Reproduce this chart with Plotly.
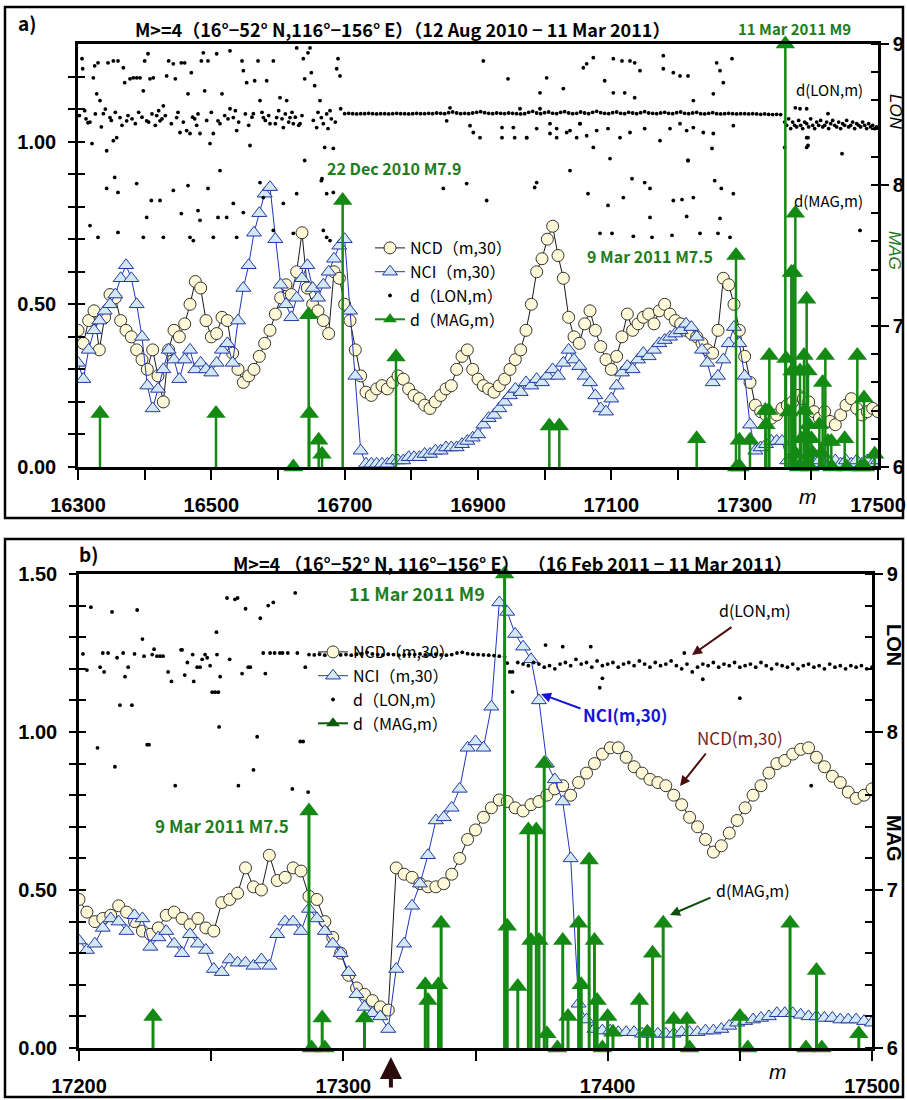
import plotly.graph_objects as go

# ======================= DATA =======================
# Panel a : NCD(m,30) and NCI(m,30), m = 16300, 16308, ... 17500
NCD_A = [
    0.42, 0.38, 0.45, 0.48, 0.36, 0.46, 0.53, 0.52, 0.45, 0.42,
    0.40, 0.36, 0.33, 0.30, 0.36, 0.28, 0.20, 0.36, 0.42, 0.40,
    0.44, 0.50, 0.57, 0.55, 0.45, 0.40, 0.41, 0.46, 0.45, 0.35,
    0.30, 0.26, 0.28, 0.30, 0.34, 0.38, 0.42, 0.47, 0.52, 0.56,
    0.53, 0.60, 0.72, 0.55, 0.50, 0.48, 0.45, 0.41, 0.60, 0.58,
    0.50, 0.45, 0.36, 0.28, 0.23, 0.22, 0.24, 0.25, 0.24, 0.26,
    0.28, 0.27, 0.24, 0.22, 0.21, 0.19, 0.18, 0.20, 0.22, 0.24,
    0.25, 0.30, 0.34, 0.36, 0.30, 0.27, 0.25, 0.24, 0.23, 0.25,
    0.27, 0.30, 0.33, 0.36, 0.42, 0.50, 0.60, 0.64, 0.70, 0.74,
    0.65, 0.58, 0.46, 0.40, 0.38, 0.44, 0.48, 0.42, 0.37, 0.33,
    0.30, 0.34, 0.40, 0.47, 0.42, 0.44, 0.46, 0.47, 0.44, 0.48,
    0.50, 0.47, 0.45, 0.44, 0.42, 0.41, 0.40, 0.38, 0.36, 0.35,
    0.42, 0.58, 0.56, 0.50, 0.42, 0.34, 0.26, 0.19, 0.17, 0.16,
    0.15, 0.16, 0.18, 0.19, 0.20, 0.22, 0.21, 0.20, 0.17, 0.15,
    0.17, 0.14, 0.13, 0.16, 0.19, 0.21, 0.18, 0.16, 0.17, 0.18,
    0.17]
NCI_A = [
    0.32, 0.27, 0.36, 0.42, 0.45, 0.48, 0.50, 0.53, 0.58, 0.62,
    0.58, 0.50, 0.40, 0.25, 0.18, 0.24, 0.30, 0.36, 0.33, 0.27,
    0.33, 0.36, 0.30, 0.32, 0.30, 0.29, 0.32, 0.36, 0.38, 0.32,
    0.45, 0.55, 0.62, 0.72, 0.78, 0.84, 0.86, 0.70, 0.56, 0.50,
    0.46, 0.52, 0.58, 0.62, 0.55, 0.52, 0.56, 0.60, 0.64, 0.68,
    0.70, 0.48, 0.28, 0.05, 0.01, 0.01, 0.01, 0.01, 0.01, 0.02,
    0.02, 0.02, 0.03, 0.03, 0.03, 0.04, 0.04, 0.05, 0.05, 0.06,
    0.06, 0.06, 0.07, 0.08, 0.09, 0.10, 0.13, 0.15, 0.16, 0.18,
    0.20, 0.22, 0.24, 0.23, 0.26, 0.25, 0.27, 0.26, 0.28, 0.30,
    0.28, 0.32, 0.36, 0.33, 0.31, 0.28, 0.26, 0.22, 0.18, 0.17,
    0.21, 0.25, 0.29, 0.31, 0.30, 0.33, 0.35, 0.34, 0.36, 0.38,
    0.39, 0.40, 0.41, 0.42, 0.44, 0.43, 0.40, 0.36, 0.32, 0.26,
    0.28, 0.33, 0.38, 0.43, 0.38, 0.28, 0.13, 0.05, 0.06, 0.07,
    0.08, 0.08, 0.08, 0.02, 0.01, 0.02, 0.01, 0.02, 0.01, 0.02,
    0.01, 0.01, 0.02, 0.01, 0.02, 0.01, 0.02, 0.01, 0.02, 0.01,
    0.02]

# Panel b : m = 17200, 17203, ... 17500
NCD_B = [
    0.47, 0.43, 0.40, 0.41, 0.42, 0.45, 0.43, 0.40, 0.37, 0.36,
    0.38, 0.42, 0.43, 0.41, 0.39, 0.41, 0.38, 0.37, 0.46, 0.47,
    0.49, 0.57, 0.51, 0.50, 0.61, 0.53, 0.54, 0.57, 0.56, 0.48,
    0.47, 0.40, 0.35, 0.30, 0.23, 0.19, 0.17, 0.15, 0.13, 0.12,
    0.57, 0.55, 0.54, 0.52, 0.51, 0.51, 0.52, 0.55, 0.60, 0.66,
    0.69, 0.73, 0.76, 0.785, 0.78, 0.76, 0.75, 0.77, 0.78, 0.80,
    0.82, 0.83, 0.80, 0.84, 0.87, 0.90, 0.93, 0.95, 0.95, 0.92,
    0.89, 0.87, 0.85, 0.84, 0.83, 0.80, 0.77, 0.73, 0.70, 0.66,
    0.62, 0.64, 0.68, 0.72, 0.76, 0.80, 0.83, 0.87, 0.90, 0.91,
    0.93, 0.945, 0.95, 0.92, 0.89, 0.86, 0.84, 0.81, 0.79, 0.80,
    0.82]
NCI_B = [
    0.34, 0.31, 0.33, 0.38, 0.41, 0.40, 0.37, 0.42, 0.41, 0.32,
    0.35, 0.37, 0.33, 0.30, 0.36, 0.33, 0.31, 0.25, 0.24, 0.28,
    0.27, 0.27, 0.26, 0.28, 0.26, 0.36, 0.40, 0.40, 0.37, 0.44,
    0.41, 0.37, 0.33, 0.30, 0.24, 0.17, 0.13, 0.11, 0.10, 0.06,
    0.25, 0.33, 0.45, 0.52, 0.61, 0.72, 0.73, 0.76, 0.82, 0.95,
    0.97, 0.95, 1.08, 1.41, 1.38, 1.31, 1.27, 1.23, 1.10, 0.90,
    0.85, 0.78, 0.60, 0.14, 0.09, 0.06, 0.055, 0.055, 0.05, 0.05,
    0.05, 0.045, 0.045, 0.045, 0.045, 0.045, 0.05, 0.05, 0.05, 0.055,
    0.055, 0.06, 0.07, 0.08, 0.085, 0.09, 0.095, 0.10, 0.11, 0.11,
    0.11, 0.105, 0.10, 0.10, 0.095, 0.095, 0.09, 0.09, 0.09, 0.085,
    0.08]

# d(MAG,m): event index m and magnitude
MAG_M = [16333, 16507, 16623, 16646, 16647, 16661, 16666, 16697, 16777, 17007,
         17022, 17228, 17287, 17288, 17292, 17293, 17308, 17331, 17332, 17336,
         17337, 17361, 17362, 17366, 17370, 17371, 17373, 17374, 17376, 17377,
         17381, 17383, 17385, 17389, 17390, 17393, 17395, 17396, 17398, 17400,
         17402, 17412, 17415, 17417, 17421, 17425, 17430, 17431, 17450, 17453,
         17469, 17475, 17479, 17481, 17495]
MAG_V = [6.38, 6.38, 6.0, 7.08, 6.38, 6.19, 6.09, 7.89, 6.78, 6.29,
         6.29, 6.2, 7.5, 6.0, 6.19, 6.0, 6.19, 6.4, 6.3, 6.4,
         6.79, 9.0, 6.77, 6.39, 7.38, 6.68, 7.38, 6.68, 7.8, 6.09,
         6.0, 6.68, 6.2, 6.79, 6.4, 7.19, 6.68, 6.3, 6.0, 6.2,
         6.1, 6.3, 6.1, 6.6, 6.79, 6.18, 6.18, 6.0, 6.2, 6.0,
         6.79, 6.0, 6.49, 6.0, 6.09]

# d(LON,m), panel a (plotted on the left scale)
LON_A_M = [16306, 16307, 16312, 16315, 16321, 16323, 16325, 16328, 16330, 16333,
           16338, 16343, 16345, 16348, 16353, 16353, 16358, 16360, 16363, 16368,
           16370, 16373, 16378, 16383, 16388, 16393, 16398, 16400, 16403, 16405,
           16408, 16413, 16418, 16423, 16428, 16433, 16436, 16443, 16446, 16448,
           16453, 16455, 16460, 16463, 16465, 16468, 16470, 16475, 16483, 16485,
           16488, 16490, 16495, 16498, 16503, 16508, 16510, 16516, 16528, 16528,
           16533, 16538, 16546, 16548, 16553, 16558, 16563, 16565, 16570, 16573,
           16578, 16583, 16588, 16593, 16598, 16603, 16608, 16613, 16618, 16623,
           16628, 16633, 16638, 16640, 16645, 16648, 16650, 16655, 16658, 16663,
           16665, 16670, 16675, 16678, 16683, 16688, 16690, 16693, 16694]
LON_A_V = [1.255, 1.224, 1.07, 1.058, 0.994, 1.196, 1.233, 1.147, 1.242, 1.126,
           1.086, 0.972, 1.242, 1.074, 1.248, 1.003, 1.012, 1.248, 1.074, 1.227,
           1.181, 1.064, 1.193, 1.196, 1.196, 1.196, 1.156, 1.248, 1.064, 1.27,
           1.193, 1.196, 1.08, 1.064, 1.11, 1.202, 1.248, 1.239, 1.193, 1.074,
           1.028, 1.242, 1.242, 1.034, 1.147, 1.025, 1.212, 1.07, 1.025, 1.248,
           1.273, 1.156, 1.248, 0.994, 1.025, 1.27, 1.064, 1.147, 1.279, 1.101,
           1.074, 1.034, 1.248, 1.218, 1.181, 0.988, 1.086, 1.187, 1.248, 1.126,
           1.074, 1.187, 1.055, 1.248, 1.074, 1.135, 1.043, 1.126, 1.074, 1.055,
           1.288, 1.055, 1.255, 1.193, 1.273, 1.288, 1.212, 1.172, 1.043, 1.126,
           1.074, 0.982, 1.04, 1.095, 0.979, 1.224, 1.255, 1.202, 1.101]
LON_A_BAND_M = [16302, 16310, 16318, 16326, 16335, 16341, 16350, 16356, 16366, 16375,
                16381, 16386, 16391, 16396, 16406, 16411, 16416, 16421, 16426, 16431,
                16440, 16450, 16458, 16472, 16478, 16480, 16493, 16500, 16513, 16520,
                16525, 16536, 16541, 16551, 16556, 16561, 16576, 16581, 16586, 16596,
                16601, 16606, 16611, 16616, 16621, 16626, 16631, 16636, 16653, 16660,
                16668, 16673, 16680, 16686]
LON_A_BAND_V = [1.08, 1.095, 1.06, 1.085, 1.045, 1.10, 1.065, 1.09, 1.05, 1.08,
                1.07, 1.055, 1.09, 1.075, 1.06, 1.085, 1.05, 1.095, 1.07, 1.08,
                1.055, 1.09, 1.06, 1.075, 1.05, 1.085, 1.065, 1.09, 1.055, 1.08,
                1.07, 1.095, 1.06, 1.085, 1.05, 1.075, 1.09, 1.065, 1.08, 1.055,
                1.095, 1.07, 1.085, 1.06, 1.09, 1.075, 1.05, 1.08, 1.065, 1.09,
                1.055, 1.085, 1.07, 1.06]
LON_A_LOW_M = [16318, 16330, 16343, 16355, 16360, 16360, 16388, 16398, 16403, 16410,
               16423, 16428, 16443, 16455, 16465, 16468, 16473, 16480, 16483, 16495,
               16503, 16510, 16513, 16523, 16533, 16538, 16548, 16573, 16578, 16593,
               16608, 16623, 16628, 16640, 16665, 16666, 16668, 16673, 16673, 16678,
               16683, 16848, 16883, 16913, 16985, 16988, 17038, 17065, 17083, 17095,
               17098, 17101, 17118, 17131, 17133, 17150, 17158, 17158, 17161, 17191,
               17193, 17206, 17213, 17215, 17223, 17233, 17255, 17260, 17263, 17265,
               17278, 17283, 17446, 17473]
LON_A_LOW_V = [0.742, 0.706, 0.856, 0.89, 0.721, 0.844, 0.871, 0.706, 0.767, 0.819,
               0.819, 0.706, 0.85, 0.779, 0.865, 0.706, 0.696, 0.788, 0.758, 0.856,
               0.706, 0.767, 0.911, 0.767, 0.81, 0.706, 0.782, 0.874, 0.828, 0.727,
               0.81, 0.718, 0.84, 0.942, 0.88, 0.886, 0.727, 0.84, 0.706, 0.696,
               0.844, 0.856, 0.871, 0.819, 0.859, 0.874, 0.911, 0.84, 0.718, 0.804,
               0.948, 0.718, 0.828, 0.886, 0.709, 0.874, 0.856, 0.767, 0.706, 0.712,
               0.819, 0.822, 0.77, 0.942, 0.828, 0.718, 0.88, 0.718, 0.764, 0.856,
               0.706, 0.84, 0.963, 0.727]
LON_A_NEAR_M = [16853, 16858, 16888, 16893, 16903, 16908, 16936, 16936, 16945, 16953,
                16955, 16963, 16973, 16973, 16988, 16993, 16993, 17003, 17008, 17008,
                17018, 17018, 17028, 17033, 17038, 17048, 17053, 17053, 17058, 17063,
                17063, 17073, 17073, 17078, 17090, 17095, 17103, 17103, 17113, 17116,
                17120, 17128, 17128, 17135, 17135, 17143, 17150, 17173, 17178, 17178,
                17188, 17193, 17203, 17203, 17213, 17215, 17215, 17223, 17223, 17238,
                17251, 17253, 17253, 17258, 17263, 17268, 17281, 17283, 17360, 17376,
                17383, 17393, 17393, 17393, 17395, 17395, 17425]
LON_A_NEAR_V = [1.064, 1.104, 1.049, 1.028, 1.012, 1.248, 1.043, 1.012, 1.193, 1.043,
                1.012, 1.101, 1.012, 1.012, 1.04, 1.101, 1.150, 1.196, 1.055, 1.025,
                1.012, 1.04, 1.163, 1.028, 1.034, 1.012, 1.055, 1.055, 1.227, 1.239,
                1.018, 1.258, 0.982, 1.034, 1.187, 1.04, 1.255, 1.150, 1.012, 1.248,
                1.150, 1.248, 1.028, 1.242, 1.135, 1.218, 1.04, 1.003, 1.264, 1.224,
                1.04, 1.212, 1.202, 1.055, 1.034, 1.202, 0.942, 1.126, 1.043, 1.028,
                0.979, 1.147, 1.025, 1.242, 1.218, 1.181, 1.255, 1.049, 0.982, 1.104,
                1.101, 1.101, 0.982, 1.012, 1.012, 0.988, 1.086]
# dense LON line, m = 16700, 16706, ... 17354
LON_A_LINE = [
    1.086, 1.087, 1.086, 1.085, 1.086, 1.086, 1.087, 1.086, 1.085, 1.086,
    1.086, 1.085, 1.086, 1.087, 1.086, 1.086, 1.085, 1.086, 1.087, 1.086,
    1.086, 1.087, 1.086, 1.088, 1.087, 1.086, 1.089, 1.091, 1.088, 1.086,
    1.087, 1.086, 1.088, 1.090, 1.092, 1.089, 1.087, 1.086, 1.088, 1.087,
    1.086, 1.088, 1.087, 1.086, 1.085, 1.086, 1.090, 1.093, 1.088, 1.086,
    1.089, 1.091, 1.087, 1.086, 1.090, 1.092, 1.088, 1.086, 1.087, 1.091,
    1.088, 1.086, 1.090, 1.093, 1.089, 1.087, 1.086, 1.089, 1.091, 1.087,
    1.086, 1.090, 1.088, 1.086, 1.089, 1.092, 1.088, 1.087, 1.086, 1.088,
    1.090, 1.087, 1.086, 1.089, 1.091, 1.087, 1.086, 1.088, 1.090, 1.086,
    1.085, 1.087, 1.089, 1.086, 1.085, 1.086, 1.087, 1.086, 1.085, 1.086,
    1.086, 1.085, 1.086, 1.085, 1.084, 1.085, 1.084, 1.083, 1.084, 1.083]
# LON band after the M9 event, m = 17360, 17363, ... 17498
LON_A_TAIL = [
    1.06, 1.05, 1.07, 1.04, 1.06, 1.05, 1.045, 1.065, 1.05, 1.04,
    1.06, 1.055, 1.045, 1.07, 1.05, 1.04, 1.06, 1.05, 1.065, 1.045,
    1.05, 1.06, 1.04, 1.055, 1.065, 1.05, 1.045, 1.06, 1.04, 1.055,
    1.05, 1.065, 1.045, 1.05, 1.06, 1.04, 1.055, 1.05, 1.045, 1.06,
    1.05, 1.04, 1.055, 1.045, 1.05, 1.04, 1.045]

# d(LON,m), panel b
LON_B_M = [17201.5, 17203, 17204.5, 17207, 17208, 17209, 17209.5, 17211, 17212.5, 17213.6,
           17214.4, 17215.5, 17216.7, 17217.4, 17218.6, 17220, 17221, 17222, 17224, 17224.6,
           17225.8, 17226.5, 17227.7, 17228.4, 17229.5, 17230.7, 17231.8, 17233.7, 17235, 17236.4,
           17238.6, 17239, 17240, 17241, 17243, 17243.4, 17244.7, 17245.8, 17246.6, 17247.7,
           17248.5, 17249.6, 17250.4, 17251.5, 17252.7, 17252, 17253, 17252.2, 17253.4, 17256,
           17257, 17259, 17260, 17260.3, 17261.7, 17263, 17264, 17264.8, 17266, 17267.4,
           17268.6, 17269.7, 17270.5, 17271.6, 17272.3, 17273.5, 17274, 17276, 17277, 17279,
           17280.7, 17281.8, 17282.6, 17283.7, 17284.8, 17285.6, 17286.7,
           17363, 17364, 17376.5, 17383, 17393.6, 17397, 17398, 17429, 17436, 17450, 17477]
LON_B_V = [1.247, 1.196, 1.395, 0.95, 1.205, 1.25, 1.19, 1.25, 1.38, 0.89,
           1.235, 1.085, 1.25, 1.175, 1.205, 1.085, 1.247, 1.386, 1.294, 1.24,
           0.96, 0.96, 1.245, 1.262, 1.24, 1.24, 1.24, 1.19, 1.16, 0.83,
           1.26, 1.26, 1.18, 1.22, 1.245, 1.16, 1.205, 1.205, 1.23, 1.245,
           1.235, 1.21, 1.126, 1.126, 1.126, 1.316, 1.016, 1.245, 1.175, 1.424,
           1.23, 1.42, 1.424, 0.83, 1.185, 1.39, 1.205, 1.205, 0.88, 0.985,
           1.36, 1.25, 1.185, 1.40, 1.25, 1.41, 1.25, 1.25, 1.25, 1.25,
           0.82, 1.44, 1.25, 0.97, 0.97, 1.205, 0.81,
           1.19, 1.127, 1.275, 1.27, 1.27, 1.14, 1.17, 1.25, 1.167, 1.107, 0.83]
# dense LON line, m = 17287, 17289, ... 17361
LON_B_LINE = [
    1.245, 1.244, 1.246, 1.243, 1.245, 1.247, 1.244, 1.245, 1.243, 1.246,
    1.248, 1.252, 1.247, 1.245, 1.244, 1.246, 1.245, 1.243, 1.244, 1.246,
    1.245, 1.247, 1.244, 1.245, 1.246, 1.244, 1.243, 1.245, 1.250, 1.252,
    1.248, 1.246, 1.245, 1.244, 1.243, 1.242, 1.240, 1.238]
# m = 17362, 17364, ... 17500
LON_B_TAIL = [
    1.218, 1.19, 1.22, 1.215, 1.21, 1.22, 1.215, 1.205, 1.21, 1.20,
    1.215, 1.22, 1.21, 1.23, 1.215, 1.22, 1.205, 1.225, 1.21, 1.215,
    1.22, 1.205, 1.215, 1.22, 1.21, 1.225, 1.215, 1.205, 1.22, 1.21,
    1.215, 1.225, 1.21, 1.20, 1.215, 1.19, 1.205, 1.215, 1.21, 1.22,
    1.205, 1.215, 1.21, 1.22, 1.205, 1.21, 1.215, 1.205, 1.22, 1.21,
    1.20, 1.215, 1.21, 1.205, 1.215, 1.20, 1.21, 1.215, 1.205, 1.21,
    1.20, 1.215, 1.205, 1.21, 1.20, 1.21, 1.205, 1.21, 1.20, 1.205]

# index positions (event count m)
M_A = list(range(16300, 17501, 8))
M_B = list(range(17200, 17501, 3))
LON_A_LINE_M = list(range(16700, 17355, 6))
LON_A_TAIL_M = list(range(17360, 17501, 3))
LON_B_LINE_M = list(range(17287, 17362, 2))
LON_B_TAIL_M = list(range(17362, 17501, 2))

# ======================= STYLE =======================
W, H = 907, 1100
def px(x): return x / W
def py(y): return 1 - y / H

CJK = "Noto Sans CJK JP"
TICKFONT = dict(family="Liberation Sans, Arial", size=20, color="black", weight="bold")
GREEN = "#148A14"
GREEN_TXT = "#1E7D1E"
NCD_FILL, NCD_EDGE = "#FFF9D8", "#333333"
NCI_FILL, NCI_EDGE, NCI_LINE = "#D2E8F7", "#24399F", "#2233C0"

fig = go.Figure()

def add_panel(xa, yl, yr, legend, mN, ncd, nci, mci, lon_sets, mag_m, mag_v,
              mag_size, stem_w, mag_leg_color):
    fig.add_trace(go.Scatter(
        x=mN, y=ncd, xaxis=xa, yaxis=yl, mode="lines+markers", name="NCD（m,30）",
        legend=legend, line=dict(color="#1A1A1A", width=1),
        marker=dict(symbol="circle", size=12, color=NCD_FILL,
                    line=dict(color=NCD_EDGE, width=1))))
    fig.add_trace(go.Scatter(
        x=mci, y=nci, xaxis=xa, yaxis=yl, mode="lines+markers", name="NCI（m,30）",
        legend=legend, line=dict(color=NCI_LINE, width=1),
        marker=dict(symbol="triangle-up", size=13, color=NCI_FILL,
                    line=dict(color=NCI_EDGE, width=1))))
    first = True
    for (lm, lv) in lon_sets:
        fig.add_trace(go.Scatter(
            x=lm, y=lv, xaxis=xa, yaxis=yl, mode="markers", name="d（LON,m）",
            legend=legend, showlegend=first,
            marker=dict(size=3.8, color="black")))
        first = False
    fig.add_trace(go.Scatter(
        x=mag_m, y=mag_v, xaxis=xa, yaxis=yr, mode="markers", showlegend=False,
        cliponaxis=False,
        marker=dict(symbol="triangle-up", size=mag_size, color=GREEN),
        error_y=dict(type="data", symmetric=False, array=[0] * len(mag_v),
                     arrayminus=[v - 5.94 for v in mag_v], color=GREEN,
                     thickness=stem_w, width=0)))
    fig.add_trace(go.Scatter(
        x=[None], y=[None], xaxis=xa, yaxis=yr, mode="lines+markers",
        name="d（MAG,m）", legend=legend,
        line=dict(color=mag_leg_color, width=2),
        marker=dict(symbol="triangle-up", size=12, color=mag_leg_color)))

add_panel("x", "y", "y2", "legend", M_A, NCD_A, NCI_A, M_A,
          [(LON_A_M, LON_A_V), (LON_A_BAND_M, LON_A_BAND_V),
           (LON_A_LOW_M, LON_A_LOW_V), (LON_A_NEAR_M, LON_A_NEAR_V),
           (LON_A_LINE_M, LON_A_LINE), (LON_A_TAIL_M, LON_A_TAIL)],
          MAG_M, MAG_V, 17, 2.5, GREEN)

MAG_B_M = [m for m in MAG_M if m >= 17200]
MAG_B_V = [v for m, v in zip(MAG_M, MAG_V) if m >= 17200]
add_panel("x2", "y4", "y5", "legend2", M_B, NCD_B, NCI_B, M_B,
          [(LON_B_M, LON_B_V), (LON_B_LINE_M, LON_B_LINE), (LON_B_TAIL_M, LON_B_TAIL)],
          MAG_B_M, MAG_B_V, 17, 3, "#0B5A0B")

# empty traces carrying the inside half of the crossing ticks
fig.add_trace(go.Scatter(x=[], y=[], xaxis="x", yaxis="y3", showlegend=False))
fig.add_trace(go.Scatter(x=[], y=[], xaxis="x2", yaxis="y6", showlegend=False))

def left_ticks(top):
    vals = [i / 10 for i in range(int(round(top * 10)) + 1)]
    text = [("%.2f" % v) if abs(v * 2 - round(v * 2)) < 1e-9 else "" for v in vals]
    return vals, text

LA_V, LA_T = left_ticks(1.2)
LB_V, LB_T = left_ticks(1.5)

AX = dict(showgrid=False, zeroline=False, showline=True, linecolor="black",
          linewidth=2.5, tickcolor="black", tickwidth=2, tickfont=TICKFONT,
          automargin=False)

def xax(dom, rng, anchor, dtick, minor):
    return dict(AX, domain=dom, range=rng, anchor=anchor, mirror=True,
                ticks="outside", ticklen=10, dtick=dtick, tick0=rng[0],
                tickformat="d", ticklabelstandoff=8,
                minor=dict(dtick=minor, tick0=rng[0], ticks="outside", ticklen=10,
                           tickwidth=2, tickcolor="black"))

def yleft(dom, rng, anchor, vals, text):
    return dict(AX, domain=dom, range=rng, anchor=anchor, ticks="outside",
                ticklen=7, tickvals=vals, ticktext=text, ticklabelstandoff=8)

def yover(over, anchor, rng, vals):
    return dict(overlaying=over, anchor=anchor, side="left", range=rng,
                showgrid=False, zeroline=False, showline=False, ticks="inside",
                ticklen=7, tickwidth=2, tickcolor="black", tickvals=vals,
                showticklabels=False, automargin=False)

def yright(over, anchor):
    return dict(AX, overlaying=over, anchor=anchor, side="right", range=[6, 9],
                ticks="outside", ticklen=8, dtick=1, tick0=6,
                minor=dict(dtick=0.2, tick0=6, ticks="inside", ticklen=7,
                           tickwidth=2, tickcolor="black"))

DOM_AX = [px(78), px(878)]
DOM_AY = [py(467), py(44)]
DOM_BX = [px(79), px(872)]
DOM_BY = [py(1048), py(574)]

def txt(x, y, s, size=15, color="black", family=CJK, weight="normal",
        style="normal", angle=0):
    return dict(x=px(x), y=py(y), xref="paper", yref="paper", text=s,
                showarrow=False, textangle=angle, xanchor="center", yanchor="middle",
                font=dict(family=family, size=size, color=color, weight=weight,
                          style=style))

def arrow(hx, hy, tx, ty, color, width=2, head=2, size=1.0):
    return dict(x=px(hx), y=py(hy), xref="paper", yref="paper", text="",
                showarrow=True, ax=tx - hx, ay=ty - hy, arrowhead=head,
                arrowsize=size, arrowwidth=width, arrowcolor=color)

TITLE_A = "M>=4（16°−52° N,116°−156° E）（12 Aug 2010 − 11 Mar 2011）"
TITLE_B = "M>=4 （16°−52° N, 116°−156° E）  （16 Feb 2011 − 11 Mar 2011）"

annotations = [
    # panel a
    txt(27, 22, "a)", size=19, weight="bold"),
    txt(402, 29, TITLE_A, size=18, weight="bold"),
    txt(794, 28, "11 Mar 2011 M9", size=15, color=GREEN_TXT, weight="bold"),
    txt(394, 168, "22 Dec 2010 M7.9", size=16, color=GREEN_TXT, weight="bold"),
    txt(650, 256, "9 Mar 2011 M7.5", size=16, color=GREEN_TXT, weight="bold"),
    txt(829, 90, "d(LON,m)", size=15),
    txt(828, 200, "d(MAG,m)", size=15),
    txt(895, 112, "LON", size=17, family="Liberation Sans", style="italic", angle=90),
    txt(895, 250, "MAG", size=17, family="Liberation Sans", style="italic",
        color=GREEN_TXT, angle=90),
    txt(808, 496, "m", size=21, family="Liberation Sans", style="italic"),
    # panel b
    txt(88, 553, "b)", size=19, weight="bold"),
    txt(512, 563, TITLE_B, size=18, weight="bold"),
    txt(417, 593, "11 Mar 2011 M9", size=18, color=GREEN_TXT, weight="bold"),
    txt(222, 825, "9 Mar 2011 M7.5", size=17, color=GREEN_TXT, weight="bold"),
    txt(755, 610, "d(LON,m)", size=16),
    arrow(692, 655, 733, 626, "#4A0E0E"),
    txt(625, 714, "NCI(m,30)", size=17, color="#1414D8", weight="bold"),
    arrow(541, 694, 582, 709, "#1414D8"),
    txt(740, 737, "NCD(m,30)", size=17, color="#7A1A1A"),
    arrow(680, 786, 707, 752, "#4A0E0E"),
    txt(753, 890, "d(MAG,m)", size=16),
    arrow(670, 915, 712, 897, "#0B4F0B"),
    txt(894, 645, "LON", size=20, family="Liberation Sans", weight="bold", angle=90),
    txt(894, 838, "MAG", size=20, family="Liberation Sans", weight="bold", angle=90),
    txt(778, 1071, "m", size=21, family="Liberation Sans", style="italic"),
    dict(x=17318, y=py(1057), xref="x2", yref="paper", text="", showarrow=True,
         ax=0, ay=32, arrowhead=2, arrowsize=1.1, arrowwidth=4, arrowcolor="#2B0B0B"),
]

shapes = [
    dict(type="rect", xref="paper", yref="paper", x0=px(5), x1=px(903),
         y0=py(518), y1=py(7), line=dict(color="black", width=2.5)),
    dict(type="rect", xref="paper", yref="paper", x0=px(5), x1=px(903),
         y0=py(1097), y1=py(539), line=dict(color="black", width=2.5)),
]

LEG = dict(xanchor="left", yanchor="top", bgcolor="rgba(0,0,0,0)",
           font=dict(family=CJK, size=16, color="black"), traceorder="normal",
           itemwidth=30, borderwidth=0)

fig.update_layout(
    width=W, height=H, margin=dict(l=0, r=0, t=0, b=0, autoexpand=False),
    paper_bgcolor="white", plot_bgcolor="white", hovermode=False,
    xaxis=xax(DOM_AX, [16300, 17500], "y", 200, 100),
    yaxis=yleft(DOM_AY, [0, 1.3], "x", LA_V, LA_T),
    yaxis2=yright("y", "x"),
    yaxis3=yover("y", "x", [0, 1.3], LA_V),
    xaxis2=xax(DOM_BX, [17200, 17500], "y4", 100, 50),
    yaxis4=yleft(DOM_BY, [0, 1.5], "x2", LB_V, LB_T),
    yaxis5=yright("y4", "x2"),
    yaxis6=yover("y4", "x2", [0, 1.5], LB_V),
    legend=dict(LEG, x=px(370), y=py(231)),
    legend2=dict(LEG, x=px(313), y=py(635)),
    annotations=annotations, shapes=shapes,
)

fig.write_html("out.html", config={"displayModeBar": False},
               post_script="document.body.style.margin='0';document.body.style.overflow='hidden';")
